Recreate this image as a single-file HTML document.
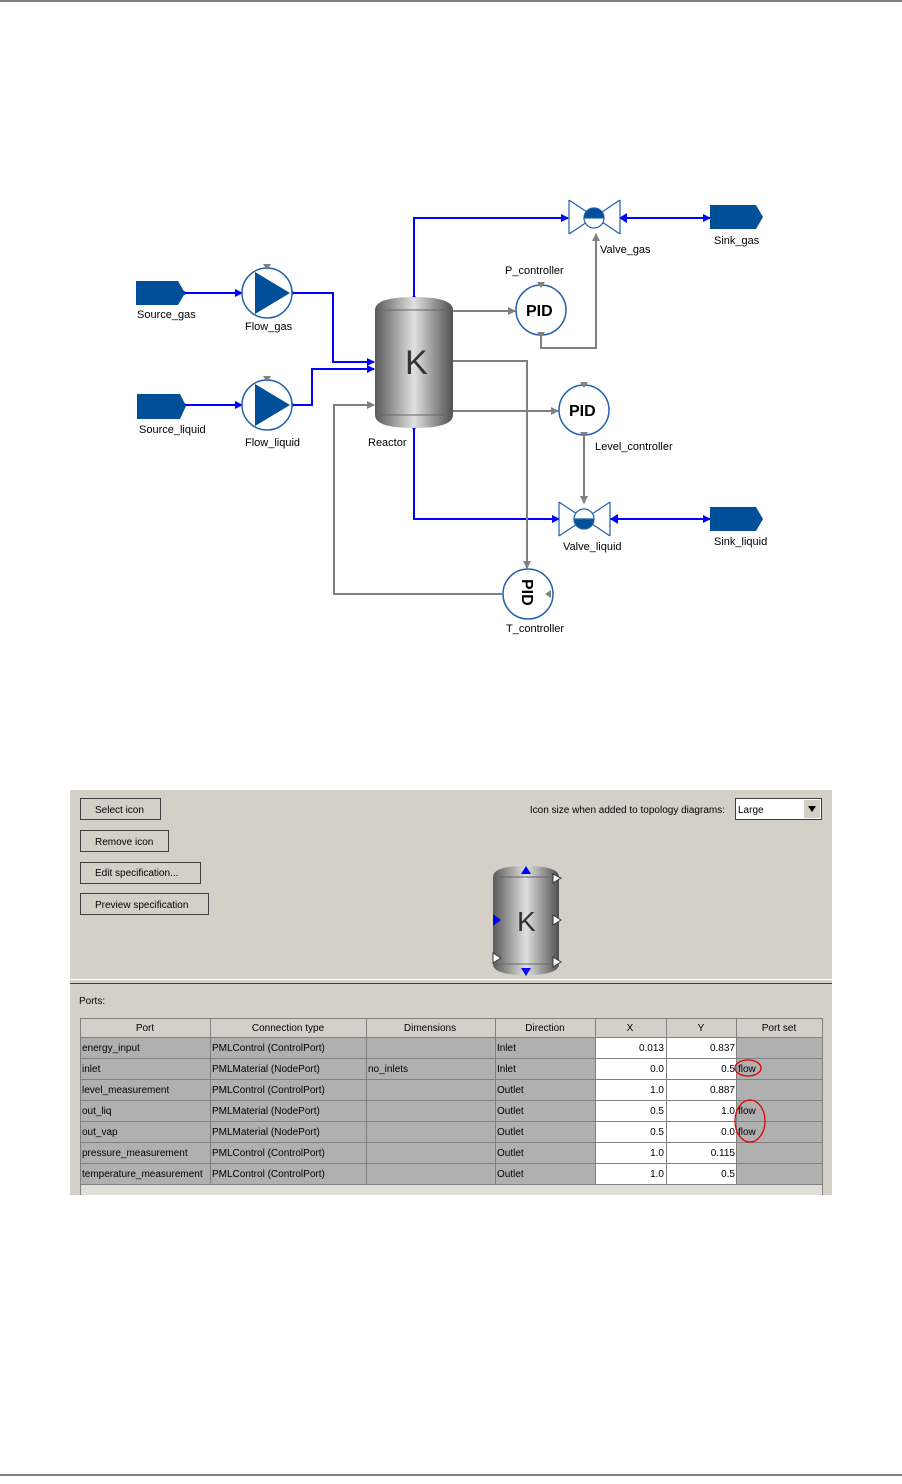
<!DOCTYPE html>
<html><head><meta charset="utf-8"><style>
html,body{margin:0;padding:0;background:#fff;}
svg{display:block;font-family:"Liberation Sans",sans-serif;}
</style></head><body>
<svg width="902" height="1484" viewBox="0 0 902 1484" xmlns="http://www.w3.org/2000/svg">
<defs>
<linearGradient id="cyl" x1="0" x2="1" y1="0" y2="0">
<stop offset="0" stop-color="#5a5a5a"/><stop offset="0.5" stop-color="#e0e0e0"/><stop offset="1" stop-color="#505050"/>
</linearGradient>
<marker id="ab" markerWidth="8" markerHeight="8" refX="7" refY="4" orient="auto" markerUnits="userSpaceOnUse"><path d="M0,0 L8,4 L0,8z" fill="#0000ff"/></marker>
<marker id="ag" markerWidth="8" markerHeight="8" refX="7" refY="4" orient="auto" markerUnits="userSpaceOnUse"><path d="M0,0 L8,4 L0,8z" fill="#808080"/></marker>
</defs>
<line x1="0" y1="1" x2="902" y2="1" stroke="#000"/>
<line x1="0" y1="1475" x2="902" y2="1475" stroke="#000"/>

<g stroke="#0000ff" stroke-width="2" fill="none">
<path d="M185,293 H242" marker-end="url(#ab)"/>
<path d="M292,293 H333 V362 H374" marker-end="url(#ab)"/>
<path d="M185,405 H242" marker-end="url(#ab)"/>
<path d="M293,405 H312 V369 H374" marker-end="url(#ab)"/>
<path d="M414,300 V218 H568" marker-end="url(#ab)"/>
<path d="M620,218 H710" marker-end="url(#ab)"/>
<path d="M414,425 V519 H559" marker-end="url(#ab)"/>
<path d="M610,519 H710" marker-end="url(#ab)"/>
</g>
<g fill="#0000ff">
<path d="M409,302 L414,294 L419,302z"/><path d="M409,423 L414,431 L419,423z"/>
<path d="M619,213 L627,218 L619,223z" transform="rotate(180 623 218)"/>
<path d="M610,514 L618,519 L610,524z" transform="rotate(180 614 519)"/>
<path d="M180,289 L188,293 L180,297z"/><path d="M180,401 L188,405 L180,409z"/>
<path d="M288,289 L296,293 L288,297z"/><path d="M288,401 L296,405 L288,409z"/>
</g>
<g stroke="#808080" stroke-width="2" fill="none">
<path d="M453,311 H515" marker-end="url(#ag)"/>
<path d="M541,337 V348 H596 V234" marker-end="url(#ag)"/>
<path d="M453,361 H527 V568" marker-end="url(#ag)"/>
<path d="M453,411 H558" marker-end="url(#ag)"/>
<path d="M584,436 V503" marker-end="url(#ag)"/>
<path d="M502,594 H334 V405 H374" marker-end="url(#ag)"/>
</g>

<g fill="#004f98">
<path d="M136,281 H178 L185,293 L178,305 H136z"/>
<path d="M137,394 H180 L186,406 L180,419 H137z"/>
<path d="M710,205 H756 L763,217 L756,229 H710z"/>
<path d="M710,507 H756 L763,519 L756,531 H710z"/>
</g>
<g>
<circle cx="267" cy="293" r="25" fill="#fff" stroke="#2060b0" stroke-width="1.5"/>
<path d="M255,272 L290,293 L255,314z" fill="#004f98"/>
<path d="M263,264 L271,264 L267,270z" fill="#808080"/>
<circle cx="267" cy="405" r="25" fill="#fff" stroke="#2060b0" stroke-width="1.5"/>
<path d="M255,384 L290,405 L255,426z" fill="#004f98"/>
<path d="M263,376 L271,376 L267,382z" fill="#808080"/>
</g>
<g>
<path d="M375,310 Q375,297 414,297 Q453,297 453,310 V415 Q453,428 414,428 Q375,428 375,415z" fill="url(#cyl)"/>
<line x1="375" y1="310" x2="453" y2="310" stroke="#666"/>
<line x1="375" y1="415" x2="453" y2="415" stroke="#666"/>
<text x="405" y="374" font-size="34" fill="#333">K</text>
</g>
<g stroke="#2060b0" stroke-width="1.2" fill="#fff">
<path d="M569,200 L620,234 M569,234 L620,200 M569,200 V234 M620,200 V234" fill="none"/>
<circle cx="594" cy="218" r="10"/>
<path d="M584,218 A10,10 0 0 1 604,218z" fill="#004f98"/>
<path d="M559,502 L610,536 M559,536 L610,502 M559,502 V536 M610,502 V536" fill="none"/>
<circle cx="584" cy="519" r="10"/>
<path d="M574,519 A10,10 0 0 0 594,519z" fill="#004f98"/>
</g>
<g stroke="#2060b0" stroke-width="1.5" fill="#fff">
<circle cx="541" cy="310" r="25"/><circle cx="584" cy="410" r="25"/><circle cx="528" cy="594" r="25"/>
</g>
<g fill="#808080">
<path d="M537,282 L545,282 L541,288z"/><path d="M537,332 L545,332 L541,338z"/>
<path d="M580,382 L588,382 L584,388z"/><path d="M580,432 L588,432 L584,438z"/>
<path d="M551,590 L551,598 L545,594z"/>
</g>
<g font-weight="bold" font-size="16" fill="#000">
<text x="526" y="316">PID</text><text x="569" y="416">PID</text>
<text transform="translate(522,594) rotate(90)" x="-15" y="0">PID</text>
</g>
<g font-size="11" fill="#000">
<text x="137" y="318">Source_gas</text><text x="245" y="330">Flow_gas</text>
<text x="139" y="433">Source_liquid</text><text x="245" y="446">Flow_liquid</text>
<text x="368" y="446">Reactor</text><text x="505" y="274">P_controller</text>
<text x="600" y="253">Valve_gas</text><text x="714" y="244">Sink_gas</text>
<text x="595" y="450">Level_controller</text><text x="563" y="550">Valve_liquid</text>
<text x="714" y="545">Sink_liquid</text><text x="506" y="632">T_controller</text>
</g>

<rect x="70" y="789" width="762" height="406" fill="#d4d0c8"/>
<rect x="70" y="789" width="762" height="1" fill="#fff"/>
<g font-size="10" fill="#000">
<g stroke-width="1">
<rect x="80.5" y="798.5" width="80" height="21" fill="#d4d0c8" stroke="#404040"/>
<rect x="80.5" y="830.5" width="88" height="21" fill="#d4d0c8" stroke="#404040"/>
<rect x="80.5" y="862.5" width="120" height="21" fill="#d4d0c8" stroke="#404040"/>
<rect x="80.5" y="893.5" width="128" height="21" fill="#d4d0c8" stroke="#404040"/>
</g>
<text x="95" y="813">Select icon</text><text x="95" y="845">Remove icon</text>
<text x="95" y="876">Edit specification...</text><text x="95" y="908">Preview specification</text>
<text x="725" y="813" text-anchor="end">Icon size when added to topology diagrams:</text>
<rect x="735.5" y="798.5" width="86" height="21" fill="#fff" stroke="#404040"/>
<rect x="804" y="800" width="16" height="18" fill="#d4d0c8"/>
<path d="M808,806 L816,806 L812,812z" fill="#000"/>
<text x="738" y="813">Large</text>
</g>
<g>
<path d="M493,877 Q493,866 526,866 Q559,866 559,877 V964 Q559,975 526,975 Q493,975 493,964z" fill="url(#cyl)"/>
<line x1="493" y1="877" x2="559" y2="877" stroke="#666"/><line x1="493" y1="964" x2="559" y2="964" stroke="#666"/>
<text x="517" y="931" font-size="28" fill="#333">K</text>
<path d="M521,874 L531,874 L526,866z" fill="#0000ff"/><path d="M521,968 L531,968 L526,976z" fill="#0000ff"/>
<path d="M493,914 L501,920 L493,926z" fill="#0000ff"/>
<g fill="#fff" stroke="#333"><path d="M553,874 L561,878 L553,883z"/><path d="M553,915 L561,920 L553,925z"/><path d="M553,957 L561,962 L553,967z"/><path d="M493,953 L501,958 L493,963z"/></g>
</g>
<rect x="70" y="979" width="762" height="1" fill="#fff"/>
<rect x="70" y="983" width="762" height="1" fill="#404040"/>
<text x="79" y="1004" font-size="10">Ports:</text>
<g font-size="10">
<rect x="80" y="1018" width="742" height="177" fill="#e0ded8"/>
<rect x="80" y="1018" width="742" height="166" fill="#b0b0b0"/>
<rect x="595" y="1037" width="141" height="147" fill="#fff"/>
<rect x="80" y="1018" width="742" height="19" fill="#d4d0c8"/>
<g stroke="#808080" fill="none">
<path d="M80.5,1018 V1195 M210.5,1018 V1184 M366.5,1018 V1184 M495.5,1018 V1184 M595.5,1018 V1184 M666.5,1018 V1184 M736.5,1018 V1184 M822.5,1018 V1195"/>
<path d="M80,1018.5 H822 M80,1037.5 H822 M80,1058.5 H822 M80,1079.5 H822 M80,1100.5 H822 M80,1121.5 H822 M80,1142.5 H822 M80,1163.5 H822 M80,1184.5 H822"/>
</g>
<g text-anchor="middle"><text x="145" y="1031">Port</text><text x="288" y="1031">Connection type</text><text x="430" y="1031">Dimensions</text><text x="545" y="1031">Direction</text><text x="630" y="1031">X</text><text x="701" y="1031">Y</text><text x="779" y="1031">Port set</text></g>
<g>
<text x="82" y="1051">energy_input</text><text x="212" y="1051">PMLControl (ControlPort)</text><text x="497" y="1051">Inlet</text>
<text x="82" y="1072">inlet</text><text x="212" y="1072">PMLMaterial (NodePort)</text><text x="368" y="1072">no_inlets</text><text x="497" y="1072">Inlet</text>
<text x="82" y="1093">level_measurement</text><text x="212" y="1093">PMLControl (ControlPort)</text><text x="497" y="1093">Outlet</text>
<text x="82" y="1114">out_liq</text><text x="212" y="1114">PMLMaterial (NodePort)</text><text x="497" y="1114">Outlet</text>
<text x="82" y="1135">out_vap</text><text x="212" y="1135">PMLMaterial (NodePort)</text><text x="497" y="1135">Outlet</text>
<text x="82" y="1156">pressure_measurement</text><text x="212" y="1156">PMLControl (ControlPort)</text><text x="497" y="1156">Outlet</text>
<text x="82" y="1177">temperature_measurement</text><text x="212" y="1177">PMLControl (ControlPort)</text><text x="497" y="1177">Outlet</text>
</g>
<g text-anchor="end">
<text x="664" y="1051">0.013</text><text x="735" y="1051">0.837</text>
<text x="664" y="1072">0.0</text><text x="735" y="1072">0.5</text>
<text x="664" y="1093">1.0</text><text x="735" y="1093">0.887</text>
<text x="664" y="1114">0.5</text><text x="735" y="1114">1.0</text>
<text x="664" y="1135">0.5</text><text x="735" y="1135">0.0</text>
<text x="664" y="1156">1.0</text><text x="735" y="1156">0.115</text>
<text x="664" y="1177">1.0</text><text x="735" y="1177">0.5</text>
</g>
<text x="738" y="1072">flow</text><text x="738" y="1114">flow</text><text x="738" y="1135">flow</text>
<ellipse cx="748" cy="1068" rx="13" ry="8" fill="none" stroke="#e00000" stroke-width="1.3"/>
<ellipse cx="750" cy="1121" rx="15" ry="21" fill="none" stroke="#e00000" stroke-width="1.3"/>
</g>
</svg>
</body></html>
